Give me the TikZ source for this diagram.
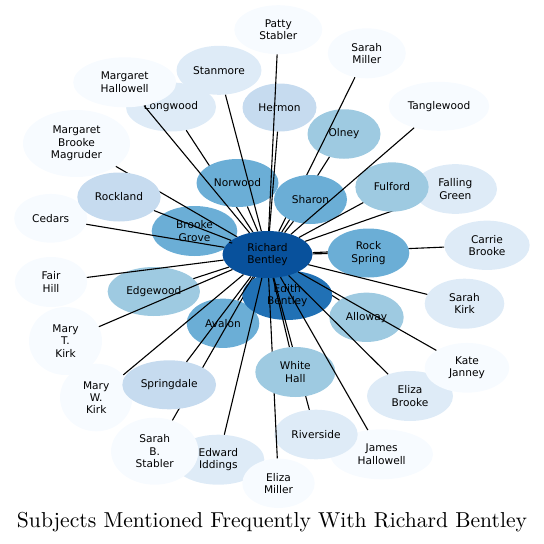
\documentclass[tikz,border=0pt]{standalone}
\usepackage{fontspec}
\usepackage{graphicx}
\newfontfamily\dv{DejaVu Sans}
\usetikzlibrary{shapes.geometric}
\definecolor{b0}{HTML}{F7FBFF}
\definecolor{b1}{HTML}{DEEBF7}
\definecolor{b2}{HTML}{C6DBEF}
\definecolor{b3}{HTML}{9ECAE1}
\definecolor{b4}{HTML}{6BAED6}
\definecolor{b6}{HTML}{2171B5}
\definecolor{b7}{HTML}{08519C}
\tikzset{
  bub/.style={ellipse, inner sep=0pt, align=center, text=black,
    font=\dv\fontsize{10.6}{12.3}\selectfont},
  link/.style={line width=1.1pt, black},
  ttl/.style={inner sep=0pt, anchor=base}
}
\begin{document}
\begin{tikzpicture}[x=1pt,y=-1pt]
\useasboundingbox (0,0) rectangle (544,544);
% phantom of the central node, used as end of every connector
\node[bub, minimum width=90pt, minimum height=47pt] (rb) at (267.5,254.5) {};
% outer nodes
\node[bub,fill=b0,minimum width=88pt,minimum height=49pt] (ps) at (278.3,29.7) {Patty\\Stabler};
\node[bub,fill=b1,minimum width=85pt,minimum height=49pt] (st) at (219,70.3) {Stanmore};
\node[bub,fill=b1,minimum width=90pt,minimum height=49pt] (lw) at (171,107) {Longwood};
\node[bub,fill=b0,minimum width=103pt,minimum height=50pt] (mh) at (124.7,82.3) {Margaret\\Hallowell};
\node[bub,fill=b2,minimum width=74pt,minimum height=48pt] (he) at (279.5,107.5) {Hermon};
\node[bub,fill=b3,minimum width=73pt,minimum height=49.5pt] (ol) at (344,134) {Olney};
\node[bub,fill=b0,minimum width=78pt,minimum height=50pt] (sm) at (366.8,53.3) {Sarah\\Miller};
\node[bub,fill=b0,minimum width=100.5pt,minimum height=49pt] (tw) at (439,106.3) {Tanglewood};
\node[bub,fill=b0,minimum width=107pt,minimum height=67pt] (mbm) at (76.5,143.5) {Margaret\\Brooke\\Magruder};
\node[bub,fill=b0,minimum width=73pt,minimum height=48.7pt] (ce) at (50.7,218.3) {Cedars};
\node[bub,fill=b4,minimum width=85.6pt,minimum height=50pt] (bg) at (194.5,231) {Brooke\\Grove};
\node[bub,fill=b1,minimum width=83.4pt,minimum height=49.7pt] (fg) at (455.3,189) {Falling\\Green};
\node[bub,fill=b1,minimum width=85.4pt,minimum height=49.3pt] (cb) at (487,245.3) {Carrie\\Brooke};
\node[bub,fill=b0,minimum width=72.3pt,minimum height=50pt] (fh) at (51,282) {Fair\\Hill};
\node[bub,fill=b3,minimum width=92.3pt,minimum height=49pt] (ew) at (153.8,291.5) {Edgewood};
\node[bub,fill=b1,minimum width=79.6pt,minimum height=50pt] (sk) at (464.5,303.7) {Sarah\\Kirk};
\node[bub,fill=b3,minimum width=74.4pt,minimum height=49.3pt] (al) at (366.5,317.3) {Alloway};
\node[bub,fill=b4,minimum width=72.6pt,minimum height=49.3pt] (av) at (223,323.3) {Avalon};
\node[bub,fill=b0,minimum width=73pt,minimum height=68pt] (mtk) at (65.5,341) {Mary\\T.\\Kirk};
\node[bub,fill=b0,minimum width=72.3pt,minimum height=67.6pt] (mwk) at (96.2,397.5) {Mary\\W.\\Kirk};
\node[bub,fill=b1,minimum width=86pt,minimum height=50pt] (ebr) at (410,396) {Eliza\\Brooke};
\node[bub,fill=b0,minimum width=84.6pt,minimum height=49.7pt] (kj) at (467,367.8) {Kate\\Janney};
\node[bub,fill=b1,minimum width=92pt,minimum height=50pt] (ei) at (218.3,459.7) {Edward\\Iddings};
\node[bub,fill=b0,minimum width=87.3pt,minimum height=67pt] (sbs) at (154.7,451.2) {Sarah\\B.\\Stabler};
\node[bub,fill=b0,minimum width=72.4pt,minimum height=49.3pt] (em) at (278.5,483.3) {Eliza\\Miller};
\node[bub,fill=b0,minimum width=102.7pt,minimum height=50pt] (jh) at (381.7,454.3) {James\\Hallowell};
\node[bub,fill=b1,minimum width=83.4pt,minimum height=49.6pt] (rv) at (316,434.5) {Riverside};
% connectors partly hidden behind nodes drawn next
\draw[link] (rb) -- (lw);
\draw[link] (rb) -- (sm);
\draw[link] (rb) -- (ol);
\draw[link] (rb) -- (mbm);
\draw[link] (rb) -- (sbs);
\draw[link] (rb) -- (fg);
\draw[link] (rb) -- (cb);
\draw[link] (rb) -- (al);
% inner nodes
\node[bub,fill=b4,minimum width=82pt,minimum height=48pt] (nw) at (237.5,183) {Norwood};
\node[bub,fill=b4,minimum width=73pt,minimum height=49pt] (sh) at (310.5,199.5) {Sharon};
\node[bub,fill=b2,minimum width=83.4pt,minimum height=49pt] (rl) at (119,197) {Rockland};
\node[bub,fill=b2,minimum width=93.7pt,minimum height=49pt] (sd) at (169.2,384.8) {Springdale};
\node[bub,fill=b3,minimum width=73.3pt,minimum height=49.3pt] (fu) at (392,187) {Fulford};
\node[bub,fill=b4,minimum width=81.6pt,minimum height=49pt] (rs) at (368.5,253) {Rock\\Spring};
\node[bub,fill=b6,minimum width=90pt,minimum height=49.3pt] (eb) at (287.3,295.3) {Edith\\Bentley};
\node[bub,fill=b7,minimum width=90pt,minimum height=47pt] (rbv) at (267.5,254.5) {Richard\\Bentley};
\draw[link] (rb) -- (rv);
\draw[link] (rb) -- (em);
\node[bub,fill=b3,minimum width=80pt,minimum height=50pt] (wh) at (295.3,372) {White\\Hall};
% remaining connectors
\draw[link] (rb) -- (ps);
\draw[link] (rb) -- (st);
\draw[link] (rb) -- (mh);
\draw[link] (rb) -- (he);
\draw[link] (rb) -- (tw);
\draw[link] (rb) -- (nw);
\draw[link] (rb) -- (sh);
\draw[link] (rb) -- (fu);
\draw[link] (rb) -- (rl);
\draw[link] (rb) -- (ce);
\draw[link] (rb) -- (bg);
\draw[link] (rb) -- (rs);
\draw[link] (rb) -- (fh);
\draw[link] (rb) -- (ew);
\draw[link] (rb) -- (sk);
\draw[link] (rb) -- (av);
\draw[link] (rb) -- (mtk);
\draw[link] (rb) -- (wh);
\draw[link] (rb) -- (kj);
\draw[link] (rb) -- (sd);
\draw[link] (rb) -- (mwk);
\draw[link] (rb) -- (ebr);
\draw[link] (rb) -- (ei);
\draw[link] (rb) -- (jh);
% title
\node[ttl] (title) at (272,527) {\resizebox{510pt}{!}{Subjects Mentioned Frequently With Richard Bentley}};
\end{tikzpicture}
\end{document}
